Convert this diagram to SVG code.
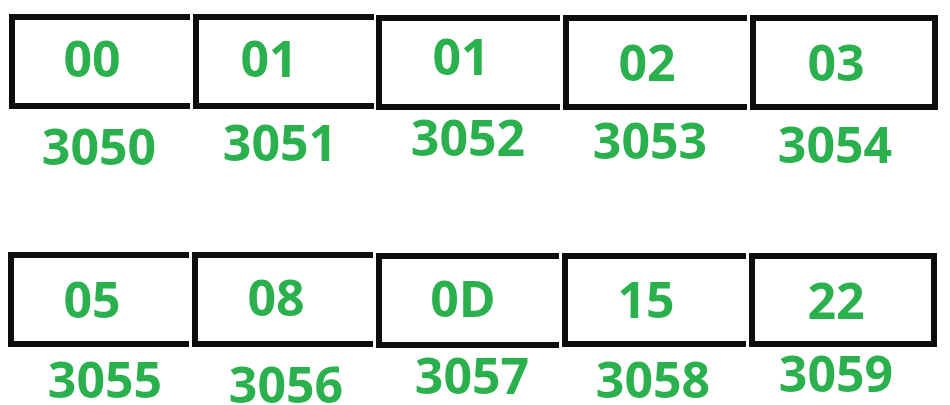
<svg xmlns="http://www.w3.org/2000/svg" width="950" height="405" viewBox="0 0 950 405">
<style>
.box{fill:none;stroke:#0d0d0d;stroke-width:6;stroke-linejoin:miter}
.t{font-family:"Open Sans","Noto Sans",sans-serif;font-weight:700;font-size:50px;fill:#2bb04e;text-anchor:middle}
</style>
<rect width="950" height="405" fill="#ffffff"/>
<g id="cell-3050">
<path class="box" d="M190 17H12V106H190"/>
<text class="t" x="92" y="77">00</text>
<text class="t" x="99" y="165">3050</text>
</g>
<g id="cell-3051">
<path class="box" d="M374 17H196V106H374"/>
<text class="t" x="269" y="77">01</text>
<text class="t" x="280" y="161">3051</text>
</g>
<g id="cell-3052">
<path class="box" d="M560 18H379V107H560"/>
<text class="t" x="461" y="75">01</text>
<text class="t" x="468" y="156">3052</text>
</g>
<g id="cell-3053">
<path class="box" d="M747 18H566V107H747"/>
<text class="t" x="647" y="81">02</text>
<text class="t" x="650" y="159">3053</text>
</g>
<g id="cell-3054">
<rect class="box" x="753" y="18" width="182" height="89"/>
<text class="t" x="836" y="81">03</text>
<text class="t" x="835" y="163">3054</text>
</g>
<g id="cell-3055">
<path class="box" d="M189 255H11V344H189"/>
<text class="t" x="92" y="318">05</text>
<text class="t" x="105" y="398">3055</text>
</g>
<g id="cell-3056">
<path class="box" d="M373 255H195V344H373"/>
<text class="t" x="276" y="316">08</text>
<text class="t" x="286" y="403">3056</text>
</g>
<g id="cell-3057">
<path class="box" d="M559 256H379V345H559"/>
<text class="t" x="463" y="317">0D</text>
<text class="t" x="472" y="394">3057</text>
</g>
<g id="cell-3058">
<path class="box" d="M746 256H565V344H746"/>
<text class="t" x="646" y="318">15</text>
<text class="t" x="653" y="398">3058</text>
</g>
<g id="cell-3059">
<rect class="box" x="752" y="256" width="182" height="88"/>
<text class="t" x="836" y="319">22</text>
<text class="t" x="836" y="392">3059</text>
</g>
<g id="connectors"/>
</svg>
